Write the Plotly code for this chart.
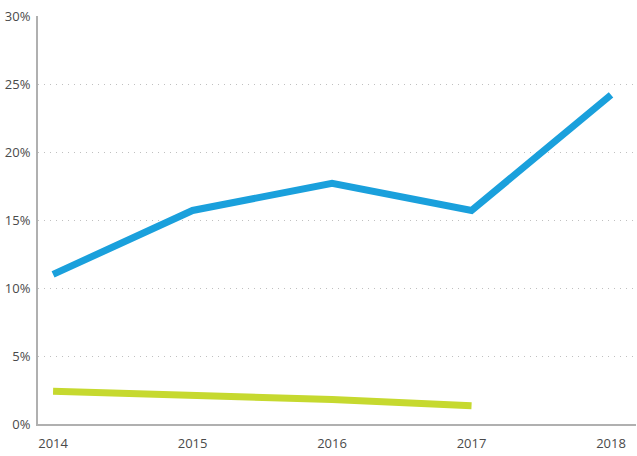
import plotly.graph_objects as go

years = [2014, 2015, 2016, 2017, 2018]
blue_values = [11.0, 15.7, 17.7, 15.7, 24.2]
green_years = [2014, 2015, 2016, 2017]
green_values = [2.4, 2.1, 1.8, 1.35]
y_ticks = [0, 5, 10, 15, 20, 25, 30]
y_tick_labels = ["0%", "5%", "10%", "15%", "20%", "25%", "30%"]

fig = go.Figure()
fig.add_trace(go.Scatter(x=years, y=blue_values, mode="lines",
                         line=dict(color="#1aa0dc", width=7), showlegend=False))
fig.add_trace(go.Scatter(x=green_years, y=green_values, mode="lines",
                         line=dict(color="#c6d92f", width=7), showlegend=False))

fig.update_layout(
    width=637, height=456,
    margin=dict(l=38, r=1, t=16, b=32, autoexpand=False),
    plot_bgcolor="white", paper_bgcolor="white",
    font=dict(family="Open Sans", size=13, color="#4a4a4a"),
    xaxis=dict(range=[2013.892, 2018.179], tickmode="array", tickvals=years,
               ticktext=[str(y) for y in years], showgrid=False, zeroline=False,
               showline=True, linecolor="#b0b0b0", linewidth=2, ticks="",
               ticklabelstandoff=6, automargin=False),
    yaxis=dict(range=[0, 30], tickmode="array", tickvals=y_ticks, ticktext=y_tick_labels,
               showgrid=True, gridcolor="#c0c0c0", griddash="1px,5px", gridwidth=1,
               zeroline=False, showline=True, linecolor="#b0b0b0", linewidth=2,
               ticks="", ticklabelstandoff=3, automargin=False),
)
fig.write_html("out.html", config={"displayModeBar": False},
               post_script="document.body.style.margin='0';document.body.style.overflow='hidden';")
